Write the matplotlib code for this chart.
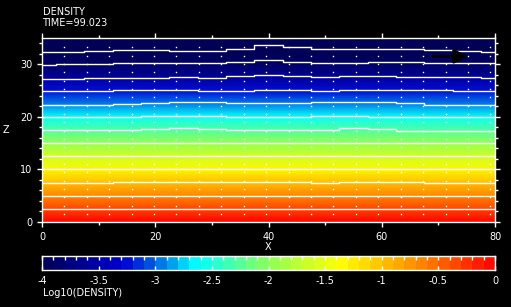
import matplotlib
matplotlib.use("Agg")
import matplotlib.pyplot as plt
import numpy as np
from matplotlib.colors import LinearSegmentedColormap
from matplotlib.ticker import MultipleLocator

# log10(density) profile read along z (field is nearly uniform in x)
z_nodes = [0, 2.5, 5, 7.5, 10, 12.5, 15, 17.5, 20, 22.5, 25, 27.5, 30, 32.5, 35]
log_density = [0.0, -0.33, -0.65, -0.98, -1.3, -1.63, -1.95, -2.28, -2.6,
               -2.93, -3.25, -3.58, -3.9, -4.23, -4.55]

# white contour lines, z read every 5 units of x
contour_x = [0, 5, 10, 15, 20, 25, 30, 35, 40, 45, 50, 55, 60, 65, 70, 75, 80]
contour_z = [
    [32.3, 32.3, 32.5, 32.8, 32.8, 32.6, 32.6, 32.9, 33.6, 33.2, 32.9, 32.9, 33.0, 33.0, 32.8, 32.5, 32.4],
    [29.8, 30.0, 30.0, 30.2, 30.2, 30.2, 30.2, 30.4, 30.75, 30.5, 30.2, 30.2, 30.4, 30.4, 30.2, 30.2, 30.2],
    [27.2, 27.2, 27.45, 27.45, 27.45, 27.6, 27.45, 27.85, 28.05, 27.8, 27.55, 27.8, 27.8, 27.5, 27.5, 27.5, 27.3],
    [24.9, 24.9, 24.9, 25.05, 25.05, 25.2, 25.0, 25.0, 25.2, 25.2, 25.0, 25.2, 25.2, 25.2, 25.2, 24.9, 24.9],
    [22.35, 22.35, 22.35, 22.5, 22.55, 22.75, 22.75, 22.55, 22.55, 22.55, 22.8, 22.8, 22.8, 22.6, 22.35, 22.35, 22.35],
    [20.0, 20.0, 20.0, 20.0, 20.2, 20.2, 20.2, 20.0, 20.0, 20.0, 20.2, 20.2, 20.0, 20.0, 20.0, 19.95, 19.95],
    [17.45, 17.45, 17.45, 17.45, 17.65, 17.85, 17.65, 17.45, 17.45, 17.45, 17.45, 17.85, 17.65, 17.4, 17.4, 17.4, 17.4],
    [14.95, 14.95, 14.95, 14.95, 14.95, 15.1, 15.1, 15.1, 15.1, 15.1, 15.1, 15.1, 14.95, 14.95, 14.95, 14.95, 14.95],
    [12.5, 12.5, 12.5, 12.5, 12.5, 12.5, 12.5, 12.5, 12.5, 12.5, 12.5, 12.5, 12.5, 12.5, 12.5, 12.5, 12.5],
    [10.0, 10.0, 10.0, 10.0, 10.0, 10.0, 10.0, 10.0, 10.0, 10.0, 10.0, 10.0, 10.0, 10.0, 10.0, 10.0, 10.0],
    [7.45, 7.45, 7.45, 7.65, 7.65, 7.65, 7.65, 7.65, 7.65, 7.65, 7.45, 7.65, 7.65, 7.65, 7.45, 7.45, 7.45],
    [4.95, 4.95, 4.95, 4.95, 4.95, 4.95, 4.95, 4.95, 4.95, 4.95, 4.95, 4.95, 4.95, 4.95, 4.95, 4.95, 4.95],
    [2.4, 2.4, 2.4, 2.4, 2.4, 2.4, 2.4, 2.4, 2.4, 2.4, 2.4, 2.4, 2.4, 2.4, 2.4, 2.4, 2.4],
]

# velocity grid (vectors are tiny, show up as dots)
vec_x = np.linspace(3.95, 79.2, 20)
vec_z = np.linspace(1.52, 33.2, 21)

# the single long (black) vector near the top right
arrow_tail = (69.0, 31.5)
arrow_head = (75.3, 31.5)

cbar_ticks = [-4, -3.5, -3, -2.5, -2, -1.5, -1, -0.5, 0]
cbar_bounds = np.arange(-4.0, 0.001, 0.1)

cmap = LinearSegmentedColormap.from_list("dens", [
    (0.0, (0.0, 0.0, 0.33)),
    (0.18, (0.0, 0.0, 0.82)),
    (0.26, (0.0, 0.45, 0.9)),
    (0.34, (0.0, 1.0, 1.0)),
    (0.5, (0.55, 1.0, 0.35)),
    (0.66, (1.0, 1.0, 0.0)),
    (0.83, (1.0, 0.55, 0.0)),
    (1.0, (1.0, 0.0, 0.0)),
])

W, H = 511, 307
fig = plt.figure(figsize=(W / 100, H / 100), dpi=100, facecolor="black")
ax = fig.add_axes([42 / W, 1 - 222 / H, 453 / W, 184 / H])
ax.set_facecolor("black")

# field: profile repeated across x, drawn with gouraud shading between nodes
field = np.repeat(np.array(log_density)[:, None], 2, axis=1)
ax.pcolormesh([0, 80], z_nodes, field, cmap=cmap, vmin=-4, vmax=0,
              shading="gouraud")

for zs in contour_z:
    ax.plot(contour_x, zs, color="white", lw=1.0, drawstyle="steps-mid")

X, Z = np.meshgrid(vec_x, vec_z)
ax.plot(X.ravel(), Z.ravel(), linestyle="none", marker="s", ms=1.0,
        mec="none", color="white")

ax.annotate("", xy=arrow_head, xytext=arrow_tail,
            arrowprops=dict(arrowstyle="-|>,head_length=0.7,head_width=0.35",
                            mutation_scale=12, color="black", lw=2,
                            shrinkA=0, shrinkB=0))

ax.set_xlim(0, 80)
ax.set_ylim(0, 35)
ax.set_xticks([0, 20, 40, 60, 80])
ax.set_yticks([0, 10, 20, 30])
ax.xaxis.set_minor_locator(MultipleLocator(10))
ax.yaxis.set_minor_locator(MultipleLocator(2))
ax.tick_params(which="both", direction="out", colors="white", top=True,
               right=True, labelsize=7, width=1)
ax.tick_params(which="major", length=3.5, pad=3.5)
ax.tick_params(which="minor", length=2)
for sp in ax.spines.values():
    sp.set_color("white")
    sp.set_linewidth(1)

# colour bar
cax = fig.add_axes([42 / W, 1 - 270 / H, 453 / W, 14 / H])
centers = (cbar_bounds[:-1] + cbar_bounds[1:]) / 2
cax.pcolormesh(cbar_bounds, [0, 1], centers[None, :], cmap=cmap, vmin=-4, vmax=0)
cax.set_xlim(-4, 0)
cax.set_ylim(0, 1)
cax.set_yticks([])
cax.set_xticks(cbar_ticks)
cax.set_xticklabels([f"{t:g}" for t in cbar_ticks])
cax.xaxis.set_minor_locator(MultipleLocator(0.1))
cax.tick_params(which="both", direction="in", colors="white", labelsize=7,
                top=True, width=1)
cax.tick_params(which="major", length=3, pad=4)
cax.tick_params(which="minor", length=3, bottom=False)
for sp in cax.spines.values():
    sp.set_color("white")
    sp.set_linewidth(1)

txt = dict(color="white", fontsize=7)
fig.text(42.5 / W, 1 - 12.3 / H, "DENSITY", ha="left", va="center", **txt)
fig.text(42.5 / W, 1 - 23.3 / H, "TIME=99.023", ha="left", va="center", **txt)
fig.text(6 / W, 1 - 130 / H, "Z", ha="center", va="center", **txt)
fig.text(268 / W, 1 - 247 / H, "X", ha="center", va="center", **txt)
fig.text(42.5 / W, 1 - 293 / H, "Log10(DENSITY)", ha="left", va="center", **txt)

fig.savefig("out.png", dpi=100, facecolor="black")
